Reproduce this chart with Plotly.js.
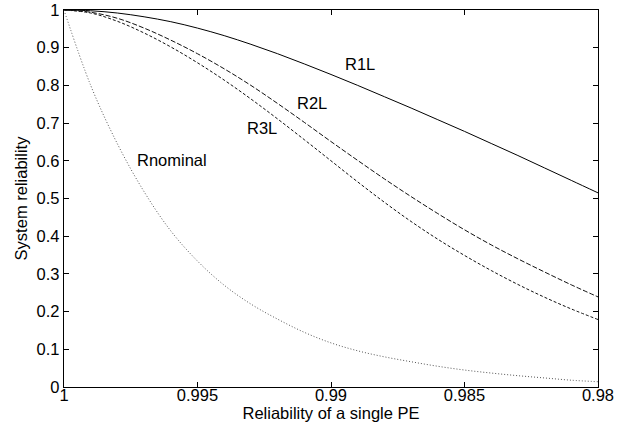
<!DOCTYPE html>
<html>
<head>
<meta charset="utf-8">
<script src="https://cdn.plot.ly/plotly-3.0.1.min.js"></script>
<style>html,body{margin:0;padding:0;background:#fff;}#chart{width:631px;height:427px;}</style>
</head>
<body>
<div id="chart"></div>
<script>
// Reliability of a single PE (x axis, reversed)
const peReliability = [1.000, 0.999, 0.998, 0.997, 0.996, 0.995, 0.994, 0.993, 0.992, 0.991, 0.990,
                       0.989, 0.988, 0.987, 0.986, 0.985, 0.984, 0.983, 0.982, 0.981, 0.980];
// System reliability series
const r1L = [1.000, 0.998, 0.992, 0.982, 0.969, 0.952, 0.932, 0.909, 0.884, 0.857, 0.829,
             0.800, 0.770, 0.740, 0.709, 0.678, 0.646, 0.614, 0.581, 0.548, 0.515];
const r2L = [1.000, 0.994, 0.978, 0.952, 0.920, 0.884, 0.844, 0.800, 0.752, 0.702, 0.651,
             0.601, 0.552, 0.505, 0.460, 0.417, 0.377, 0.340, 0.305, 0.271, 0.239];
const r3L = [1.000, 0.992, 0.970, 0.939, 0.902, 0.860, 0.814, 0.764, 0.711, 0.656, 0.600,
             0.544, 0.490, 0.439, 0.392, 0.349, 0.309, 0.272, 0.238, 0.207, 0.179];
const rNominal = [1.000, 0.800, 0.645, 0.518, 0.414, 0.334, 0.270, 0.220, 0.180, 0.145, 0.117,
                  0.096, 0.080, 0.067, 0.055, 0.045, 0.037, 0.030, 0.024, 0.018, 0.014];
// Curve labels: [text, x, y]
const curveLabels = [
  ["R1L", 0.98891, 0.857],
  ["R2L", 0.99071, 0.754],
  ["R3L", 0.99257, 0.687],
  ["Rnominal", 0.99597, 0.603]
];
const xTicks = [1, 0.995, 0.99, 0.985, 0.98];
const yTicks = [0, 0.1, 0.2, 0.3, 0.4, 0.5, 0.6, 0.7, 0.8, 0.9, 1];

const FONT = "Liberation Sans, Arial, Helvetica, sans-serif";

const traces = [
  {x: peReliability, y: r1L, mode: "lines", line: {color: "#000", width: 1, shape: "spline"}, name: "R1L"},
  {x: peReliability, y: r2L, mode: "lines", line: {color: "#111", width: 1, dash: "5px,2px", shape: "spline"}, name: "R2L"},
  {x: peReliability, y: r3L, mode: "lines", line: {color: "#111", width: 1, dash: "3px,2px", shape: "spline"}, name: "R3L"},
  {x: peReliability, y: rNominal, mode: "lines", line: {color: "#555", width: 1, dash: "1px,2px", shape: "spline"}, name: "Rnominal"}
];

const layout = {
  width: 631, height: 427,
  margin: {l: 64, r: 33, t: 10, b: 40, pad: 0},
  paper_bgcolor: "#fff", plot_bgcolor: "#fff",
  showlegend: false,
  font: {family: FONT, size: 16.5, color: "#000"},
  xaxis: {
    range: [1, 0.98], tickvals: xTicks, ticktext: xTicks.map(String),
    showgrid: false, zeroline: false, showline: true, linecolor: "#000", linewidth: 1.2,
    mirror: "ticks", ticks: "inside", ticklen: 5, tickcolor: "#000",
    ticklabelstandoff: -7,
    tickfont: {family: FONT, size: 16.5, color: "#000"},
    title: {text: "Reliability of a single PE", font: {family: FONT, size: 16.5, color: "#000"}, standoff: 2},
    automargin: false
  },
  yaxis: {
    range: [0, 1], tickvals: yTicks, ticktext: yTicks.map(String),
    showgrid: false, zeroline: false, showline: true, linecolor: "#000", linewidth: 1.2,
    mirror: "ticks", ticks: "inside", ticklen: 5, tickcolor: "#000",
    tickfont: {family: FONT, size: 16.5, color: "#000"},
    title: {text: "System reliability", font: {family: FONT, size: 16.5, color: "#000"}, standoff: 4},
    automargin: false
  },
  annotations: curveLabels.map(c => ({
    text: c[0], x: c[1], y: c[2], xref: "x", yref: "y", showarrow: false,
    font: {family: FONT, size: 16.5, color: "#000"}
  }))
};

Plotly.newPlot("chart", traces, layout, {displayModeBar: false, staticPlot: true});
</script>
</body>
</html>
